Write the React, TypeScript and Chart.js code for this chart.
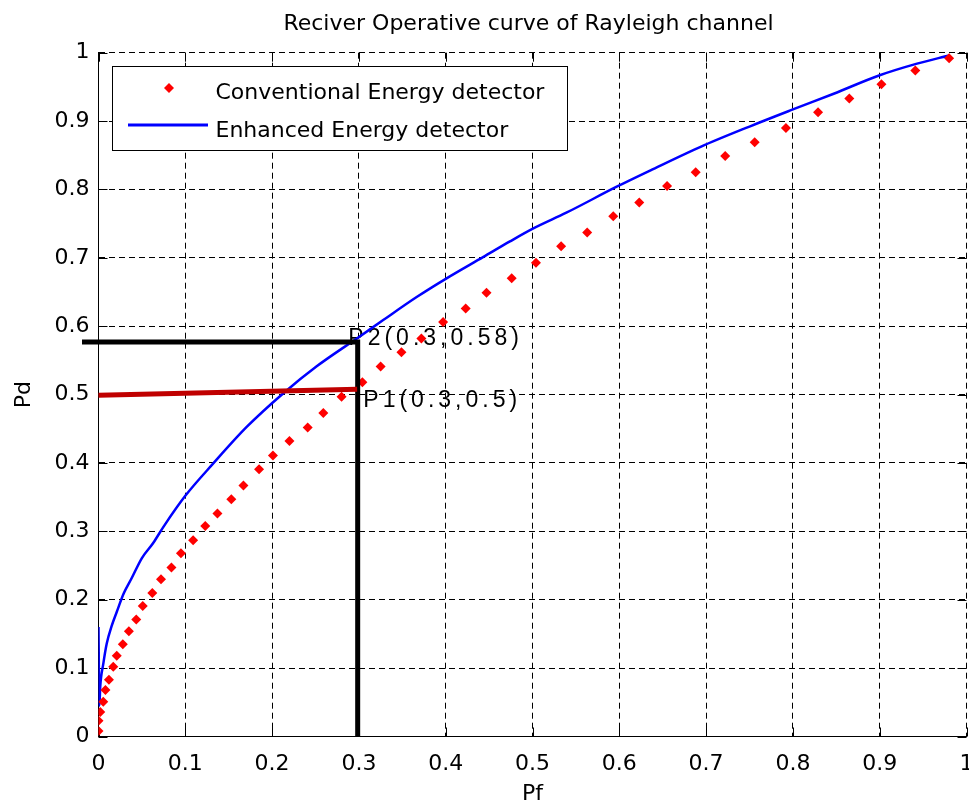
import React, { useEffect, useRef } from 'react';
import { Chart, registerables } from 'chart.js';

Chart.register(...registerables);

const chartTitle = 'Reciver Operative curve of Rayleigh channel';
const xAxisTitle = 'Pf';
const yAxisTitle = 'Pd';

const conventionalLabel = 'Conventional Energy detector';
const enhancedLabel = 'Enhanced Energy detector';

const conventionalPf = [
  0.0, 0.0, 0.002, 0.0055, 0.008, 0.012, 0.017, 0.021, 0.028, 0.035, 0.0435, 0.051, 0.062, 0.072,
  0.084, 0.095, 0.109, 0.123, 0.137, 0.153, 0.167, 0.185, 0.201, 0.22, 0.241, 0.259, 0.28, 0.304,
  0.325, 0.349, 0.372, 0.397, 0.423, 0.447, 0.476, 0.504, 0.533, 0.563, 0.593, 0.623, 0.655, 0.688,
  0.722, 0.756, 0.792, 0.829, 0.865, 0.902, 0.941, 0.98,
];
const conventionalPd = [
  0.008, 0.023, 0.036, 0.051, 0.068, 0.083, 0.102, 0.118, 0.135, 0.154, 0.171, 0.191, 0.21, 0.23,
  0.247, 0.268, 0.287, 0.308, 0.326, 0.347, 0.367, 0.391, 0.411, 0.432, 0.452, 0.473, 0.497, 0.518,
  0.541, 0.562, 0.582, 0.606, 0.626, 0.649, 0.67, 0.693, 0.717, 0.737, 0.761, 0.781, 0.805, 0.825,
  0.849, 0.869, 0.89, 0.913, 0.933, 0.954, 0.974, 0.992,
];

const enhancedPf = [
  0.0, 0.001, 0.002, 0.0056, 0.0095, 0.015, 0.021, 0.029, 0.038, 0.05, 0.063, 0.075, 0.1, 0.132,
  0.171, 0.213, 0.251, 0.301, 0.328, 0.367, 0.401, 0.443, 0.474, 0.501, 0.539, 0.597, 0.636, 0.693,
  0.75, 0.8, 0.847, 0.9, 0.943, 0.98,
];
const enhancedPd = [
  0.16, 0.045, 0.073, 0.107, 0.136, 0.161, 0.182, 0.209, 0.231, 0.261, 0.283, 0.307, 0.352, 0.399,
  0.453, 0.502, 0.541, 0.585, 0.609, 0.643, 0.67, 0.701, 0.724, 0.743, 0.766, 0.804, 0.828, 0.862,
  0.892, 0.917, 0.94, 0.967, 0.984, 0.996,
];

// annotation guide lines
const p2LinePf = [-0.019, 0.2986, 0.2986];
const p2LinePd = [0.577, 0.577, 0.0];
const p1LinePf = [0.0, 0.298];
const p1LinePd = [0.499, 0.5077];

const annotationTexts = ['P2(0.3,0.58)', 'P1(0.3,0.5)'];
const annotationPf = [0.2878, 0.3051];
const annotationPd = [0.5724, 0.4825];

const xTickValues = [0, 0.1, 0.2, 0.3, 0.4, 0.5, 0.6, 0.7, 0.8, 0.9, 1];
const xTickLabels = ['0', '0.1', '0.2', '0.3', '0.4', '0.5', '0.6', '0.7', '0.8', '0.9', '1'];
const yTickValues = [0, 0.1, 0.2, 0.3, 0.4, 0.5, 0.6, 0.7, 0.8, 0.9, 1];
const yTickLabels = ['0', '0.1', '0.2', '0.3', '0.4', '0.5', '0.6', '0.7', '0.8', '0.9', '1'];

const FONT = '"DejaVu Sans", sans-serif';
const CANVAS_W = 990;
const CANVAS_H = 806;
const PLOT_RIGHT = 966.5;
const PLOT_LEFT = 98.5;
const PLOT_TOP = 52.7;
const PLOT_BOTTOM = 736.5;

const toPoints = (xs: number[], ys: number[]) => xs.map((x, i) => ({ x, y: ys[i] }));

const decorPlugin = {
  id: 'decor',
  beforeDatasetsDraw(chart: any) {
    const { ctx, chartArea, scales } = chart;
    const xs = scales.x;
    const ys = scales.y;
    ctx.save();
    // inward tick marks
    ctx.strokeStyle = '#000';
    ctx.lineWidth = 1;
    ctx.setLineDash([]);
    ctx.beginPath();
    const tl = 9;
    xTickValues.forEach((v) => {
      const px = Math.round(xs.getPixelForValue(v)) + 0.5;
      ctx.moveTo(px, chartArea.bottom);
      ctx.lineTo(px, chartArea.bottom - tl);
      ctx.moveTo(px, chartArea.top);
      ctx.lineTo(px, chartArea.top + tl);
    });
    yTickValues.forEach((v) => {
      const py = Math.round(ys.getPixelForValue(v)) + 0.5;
      ctx.moveTo(chartArea.left, py);
      ctx.lineTo(chartArea.left + tl, py);
      ctx.moveTo(chartArea.right, py);
      ctx.lineTo(chartArea.right - tl, py);
    });
    ctx.stroke();

    // annotation texts (spaced characters)
    ctx.fillStyle = '#000';
    ctx.font = '23px "Liberation Sans", Arial, sans-serif';
    ctx.textBaseline = 'alphabetic';
    ctx.textAlign = 'left';
    annotationTexts.forEach((t, i) => {
      let x = xs.getPixelForValue(annotationPf[i]);
      const y = ys.getPixelForValue(annotationPd[i]);
      for (const ch of t) {
        ctx.fillText(ch, x, y);
        x += ctx.measureText(ch).width + 4;
      }
    });
    ctx.restore();
  },
  afterDraw(chart: any) {
    const { ctx, chartArea, data } = chart;
    ctx.save();
    // title
    ctx.fillStyle = '#000';
    ctx.font = `22px ${FONT}`;
    ctx.textAlign = 'center';
    ctx.textBaseline = 'alphabetic';
    ctx.fillText(chartTitle, (chartArea.left + chartArea.right) / 2 - 4, 29.5);

    // legend box
    const bx = 112.5;
    const by = 66.5;
    const bw = 455;
    const bh = 84;
    ctx.fillStyle = '#fff';
    ctx.fillRect(bx, by, bw, bh);
    ctx.strokeStyle = '#000';
    ctx.lineWidth = 1;
    ctx.setLineDash([]);
    ctx.strokeRect(bx, by, bw, bh);

    const conv = data.datasets[2];
    const enh = data.datasets[3];
    // red diamond marker
    ctx.fillStyle = conv.backgroundColor;
    const mx = 169;
    const my = 88;
    const r = 5;
    ctx.beginPath();
    ctx.moveTo(mx, my - r);
    ctx.lineTo(mx + r, my);
    ctx.lineTo(mx, my + r);
    ctx.lineTo(mx - r, my);
    ctx.closePath();
    ctx.fill();
    // blue line
    ctx.strokeStyle = enh.borderColor;
    ctx.lineWidth = 3;
    ctx.beginPath();
    ctx.moveTo(128, 125);
    ctx.lineTo(208, 125);
    ctx.stroke();

    ctx.fillStyle = '#000';
    ctx.font = `22px ${FONT}`;
    ctx.textAlign = 'left';
    ctx.textBaseline = 'alphabetic';
    ctx.fillText(conv.label, 215.5, 99);
    ctx.fillText(enh.label, 215.5, 136.5);
    ctx.restore();
  },
};

export default function App() {
  const canvasRef = useRef<HTMLCanvasElement | null>(null);

  useEffect(() => {
    const canvas = canvasRef.current;
    if (!canvas) return;
    const gridCommon = {
      color: '#000',
      lineWidth: 1,
      drawTicks: false,
    };
    const chart = new Chart(canvas, {
      type: 'line',
      data: {
        datasets: [
          {
            label: 'P1 guide',
            data: toPoints(p1LinePf, p1LinePd),
            borderColor: '#c00000',
            borderWidth: 5,
            pointRadius: 0,
            clip: false as any,
            order: 0,
          },
          {
            label: 'P2 guide',
            data: toPoints(p2LinePf, p2LinePd),
            borderColor: '#000',
            borderWidth: 5,
            pointRadius: 0,
            clip: false as any,
            order: 1,
            borderJoinStyle: 'miter',
          } as any,
          {
            label: conventionalLabel,
            data: toPoints(conventionalPf, conventionalPd),
            showLine: false,
            pointStyle: 'rectRot',
            pointRadius: 5,
            backgroundColor: '#ff0000',
            borderColor: '#ff0000',
            borderWidth: 0,
            order: 2,
          },
          {
            label: enhancedLabel,
            data: toPoints(enhancedPf, enhancedPd),
            borderColor: '#0000ff',
            backgroundColor: '#0000ff',
            borderWidth: 2.5,
            pointRadius: 0,
            cubicInterpolationMode: 'monotone',
            order: 3,
          },
        ],
      },
      options: {
        animation: false,
        responsive: false,
        maintainAspectRatio: false,
        devicePixelRatio: 1,
        layout: {
          padding: { top: PLOT_TOP, right: CANVAS_W - PLOT_RIGHT, left: 0, bottom: 0 },
        },
        plugins: {
          legend: { display: false },
          title: { display: false },
          tooltip: { enabled: false },
        },
        scales: {
          x: {
            type: 'linear',
            min: 0,
            max: 1,
            afterFit: (s: any) => {
              s.height = CANVAS_H - PLOT_BOTTOM;
            },
            afterBuildTicks: (s: any) => {
              s.ticks = xTickValues.map((v) => ({ value: v }));
            },
            ticks: {
              autoSkip: false,
              maxRotation: 0,
              padding: 15,
              color: '#000',
              font: { family: FONT, size: 22 },
              callback: (_v: any, i: number) => xTickLabels[i],
            },
            grid: gridCommon,
            border: { display: true, color: '#000', width: 1, dash: [6, 4] },
            title: {
              display: true,
              text: xAxisTitle,
              color: '#000',
              font: { family: FONT, size: 22, lineHeight: 1 },
              padding: { top: 0, bottom: 0.6 },
            },
          },
          y: {
            type: 'linear',
            min: 0,
            max: 1,
            afterFit: (s: any) => {
              s.width = PLOT_LEFT;
            },
            afterBuildTicks: (s: any) => {
              s.ticks = yTickValues.map((v) => ({ value: v }));
            },
            ticks: {
              autoSkip: false,
              padding: 9,
              color: '#000',
              font: { family: FONT, size: 22 },
              callback: (_v: any, i: number) => yTickLabels[i],
            },
            grid: gridCommon,
            border: { display: true, color: '#000', width: 1, dash: [6, 4] },
            title: {
              display: true,
              text: yAxisTitle,
              color: '#000',
              font: { family: FONT, size: 22, lineHeight: 1 },
              padding: { top: 13.5, bottom: 0 },
            },
          },
        },
      },
      plugins: [decorPlugin],
    } as any);
    return () => chart.destroy();
  }, []);

  return (
    <div
      style={{
        position: 'fixed',
        left: 0,
        top: 0,
        width: 969,
        height: 806,
        overflow: 'hidden',
        background: '#fff',
      }}
    >
      <canvas
        ref={canvasRef}
        width={CANVAS_W}
        height={CANVAS_H}
        style={{ display: 'block', width: CANVAS_W, height: CANVAS_H }}
      />
    </div>
  );
}
